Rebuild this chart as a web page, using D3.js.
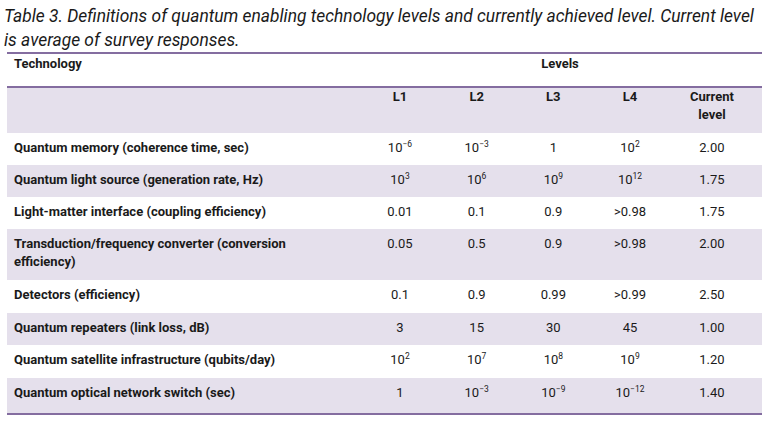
<!DOCTYPE html>
<html><head><meta charset="utf-8">
<script src="https://cdn.jsdelivr.net/npm/d3@7"></script>
<style>body{margin:0;background:#fff}text{font-family:Roboto,"Noto Sans",sans-serif;fill:#1a1a1a}</style>
</head><body><svg id="c" width="773" height="427"></svg>
<script>
// table content
var columns = ['L1', 'L2', 'L3', 'L4', 'Current level'];
var technologies = [
  'Quantum memory (coherence time, sec)',
  'Quantum light source (generation rate, Hz)',
  'Light-matter interface (coupling efficiency)',
  'Transduction/frequency converter (conversion|efficiency)',
  'Detectors (efficiency)',
  'Quantum repeaters (link loss, dB)',
  'Quantum satellite infrastructure (qubits/day)',
  'Quantum optical network switch (sec)'
];
// "10^x" means superscript
var levels = [
  ['10^−6', '10^−3', '1', '10^2'],
  ['10^3', '10^6', '10^9', '10^12'],
  ['0.01', '0.1', '0.9', '>0.98'],
  ['0.05', '0.5', '0.9', '>0.98'],
  ['0.1', '0.9', '0.99', '>0.99'],
  ['3', '15', '30', '45'],
  ['10^2', '10^7', '10^8', '10^9'],
  ['1', '10^−3', '10^−9', '10^−12']
];
var currentLevel = [2.00, 1.75, 1.75, 2.00, 2.50, 1.00, 1.20, 1.40];

var svg = d3.select('#c');
var purple = '#5b3d80', shade = '#e5e0ec';

svg.append('text').attr('x', 4).attr('y', 22).style('font-style', 'italic').style('font-size', '17.4px')
  .text('Table 3. Definitions of quantum enabling technology levels and currently achieved level. Current level');
svg.append('text').attr('x', 4).attr('y', 46).style('font-style', 'italic').style('font-size', '17.4px')
  .text('is average of survey responses.');

var rowTop = [133, 165, 197, 229, 280, 313, 345, 378];
var rowBot = [165, 197, 229, 280, 313, 345, 378, 413];

svg.append('rect').attr('x', 7).attr('y', 88).attr('width', 755).attr('height', 45).attr('fill', shade);
rowTop.forEach(function(t, i) {
  if (i % 2 === 1) svg.append('rect').attr('x', 7).attr('y', t).attr('width', 755).attr('height', rowBot[i] - t).attr('fill', shade);
});
[53, 87, 414].forEach(function(y) {
  svg.append('line').attr('x1', 7).attr('x2', 762).attr('y1', y).attr('y2', y).attr('stroke', purple).attr('stroke-width', 1.3);
});

var x = d3.scalePoint().domain(columns.slice(0, 4)).range([400, 630]);
var colX = function(c) { return c === 'Current level' ? 712 : x(c); };

svg.append('text').attr('x', 14).attr('y', 68).style('font-weight', 'bold').style('font-size', '13px').text('Technology');
svg.append('text').attr('x', 560).attr('y', 68).attr('text-anchor', 'middle').style('font-weight', 'bold').style('font-size', '13px').text('Levels');
columns.forEach(function(c) {
  var parts = c === 'Current level' ? ['Current', 'level'] : [c];
  parts.forEach(function(p, j) {
    svg.append('text').attr('x', colX(c)).attr('y', 101 + j * 18).attr('text-anchor', 'middle')
      .style('font-weight', 'bold').style('font-size', '13px').text(p);
  });
});

function cell(xc, y, s) {
  var t = svg.append('text').attr('x', xc).attr('y', y).attr('text-anchor', 'middle').style('font-size', '13px');
  var m = s.split('^');
  t.append('tspan').text(m[0]);
  if (m[1]) t.append('tspan').attr('dy', -5).style('font-size', '8.5px').text(m[1]);
}

technologies.forEach(function(name, i) {
  var y = rowTop[i] + 19;
  name.split('|').forEach(function(p, j) {
    svg.append('text').attr('x', 14).attr('y', y + j * 18).style('font-weight', 'bold').style('font-size', '13px').text(p);
  });
  levels[i].forEach(function(v, k) { cell(colX(columns[k]), y, v); });
  cell(colX('Current level'), y, d3.format('.2f')(currentLevel[i]));
});
</script></body></html>
